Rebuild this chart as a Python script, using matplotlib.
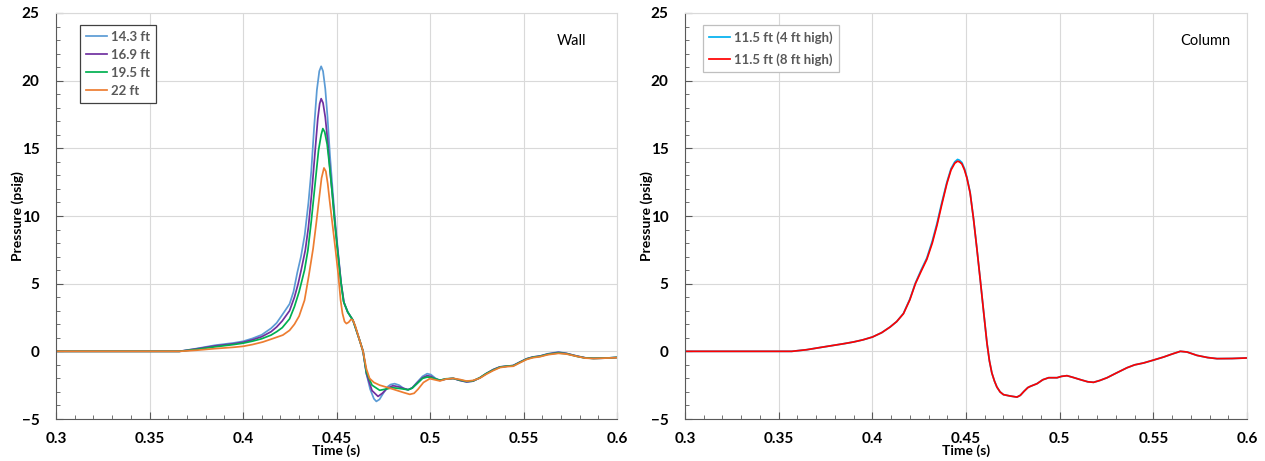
import matplotlib.pyplot as plt
from matplotlib.ticker import MultipleLocator

plt.rcParams['font.family'] = ['Lato', 'DejaVu Sans']

# ---- Wall (left panel) ----
# tail shared by the wall curves after ~0.505 s
t_tail = [0.5085, 0.5124, 0.5160, 0.5196, 0.5230, 0.5267, 0.5300, 0.5338, 0.5374, 0.5410, 0.5445,
          0.5480, 0.5517, 0.5550, 0.5588, 0.5630, 0.5687, 0.5730, 0.5785, 0.5830, 0.5874, 0.5940, 0.600]

t_143 = [0.300, 0.366, 0.375, 0.385, 0.395, 0.400, 0.405, 0.410, 0.415, 0.418, 0.421, 0.4249,
         0.4270, 0.4290, 0.4310, 0.4330, 0.4350, 0.4365, 0.4380, 0.4395, 0.4408, 0.4418, 0.4428,
         0.4440, 0.4452, 0.4465, 0.4480, 0.4495, 0.4510, 0.4525, 0.4540, 0.4560, 0.4588, 0.4605,
         0.4624, 0.4642, 0.4660, 0.4680, 0.4700, 0.4713, 0.4730, 0.4750, 0.4775, 0.4790, 0.4811,
         0.4835, 0.4860, 0.4883, 0.4905, 0.4930, 0.4960, 0.4985, 0.5005, 0.5030, 0.5053] + t_tail
p_143 = [0, 0, 0.2, 0.45, 0.62, 0.74, 0.95, 1.22, 1.7, 2.1, 2.7, 3.5,
         4.4, 5.8, 7.0, 8.6, 11.0, 13.3, 16.5, 19.3, 20.7, 21.06, 20.7,
         19.4, 17.3, 14.5, 11.8, 9.3, 7.1, 5.0, 3.6, 2.9, 2.3, 1.6,
         0.8, 0, -1.65, -2.8, -3.5, -3.70, -3.55, -3.1, -2.6, -2.45, -2.39,
         -2.5, -2.75, -2.84, -2.7, -2.3, -1.85, -1.65, -1.72, -2.0, -2.14,
         -2.05, -2.0, -2.15, -2.27, -2.2, -1.95, -1.65, -1.35, -1.15, -1.1, -1.05,
         -0.8, -0.55, -0.42, -0.35, -0.18, -0.05, -0.15, -0.35, -0.48, -0.52, -0.5, -0.45]

t_169 = [0.300, 0.366, 0.375, 0.385, 0.395, 0.400, 0.405, 0.410, 0.415, 0.418, 0.421, 0.4249,
         0.4275, 0.4295, 0.4311, 0.4333, 0.4350, 0.4368, 0.4386, 0.4400, 0.4410, 0.4418, 0.4428,
         0.4440, 0.4453, 0.4466, 0.4480, 0.4495, 0.4510, 0.4525, 0.4540, 0.4560, 0.4588, 0.4605,
         0.4624, 0.4642, 0.4660, 0.4690, 0.4722, 0.4745, 0.4770, 0.4800, 0.4811, 0.4840, 0.4883,
         0.4905, 0.4930, 0.4960, 0.4985, 0.5005, 0.5030, 0.5053] + t_tail
p_169 = [0, 0, 0.18, 0.4, 0.56, 0.67, 0.85, 1.08, 1.45, 1.8, 2.25, 3.0,
         4.0, 5.0, 6.0, 7.46, 9.2, 11.8, 14.86, 17.2, 18.3, 18.67, 18.35,
         17.3, 15.5, 13.3, 11.3, 9.0, 7.0, 5.0, 3.6, 2.9, 2.3, 1.6,
         0.8, 0, -1.65, -2.9, -3.33, -3.1, -2.75, -2.55, -2.56, -2.65, -2.84,
         -2.7, -2.35, -1.95, -1.8, -1.85, -2.05, -2.14,
         -2.05, -2.0, -2.15, -2.25, -2.2, -1.95, -1.65, -1.35, -1.15, -1.1, -1.05,
         -0.8, -0.55, -0.42, -0.35, -0.2, -0.08, -0.16, -0.35, -0.48, -0.52, -0.5, -0.45]

t_195 = [0.300, 0.366, 0.375, 0.385, 0.395, 0.400, 0.405, 0.410, 0.415, 0.418, 0.421, 0.4249,
         0.4275, 0.4300, 0.4329, 0.4347, 0.4365, 0.4385, 0.4404, 0.4418, 0.4427, 0.4437, 0.4450,
         0.4462, 0.4475, 0.4490, 0.4505, 0.4520, 0.4537, 0.4560, 0.4588, 0.4605, 0.4624, 0.4642,
         0.4660, 0.4690, 0.4731, 0.4760, 0.4800, 0.4840, 0.4883, 0.4905, 0.4930, 0.4960, 0.4985,
         0.5010, 0.5053] + t_tail
p_195 = [0, 0, 0.14, 0.33, 0.5, 0.6, 0.75, 0.93, 1.2, 1.45, 1.75, 2.4,
         3.3, 4.4, 6.0, 7.46, 9.6, 12.3, 14.86, 16.0, 16.46, 16.2, 15.3,
         13.8, 12.0, 9.6, 7.5, 5.5, 3.7, 2.9, 2.3, 1.6, 0.8, 0,
         -1.55, -2.5, -2.88, -2.8, -2.69, -2.75, -2.84, -2.72, -2.4, -2.0, -1.9,
         -1.95, -2.14,
         -2.03, -2.0, -2.12, -2.22, -2.18, -1.95, -1.65, -1.38, -1.17, -1.1, -1.07,
         -0.82, -0.57, -0.44, -0.37, -0.22, -0.12, -0.18, -0.37, -0.49, -0.52, -0.5, -0.45]

t_22 = [0.300, 0.366, 0.375, 0.385, 0.395, 0.400, 0.405, 0.4106, 0.4159, 0.4213, 0.4249, 0.4275,
        0.4300, 0.4329, 0.4352, 0.4375, 0.4392, 0.4406, 0.4420, 0.4433, 0.4443, 0.4453, 0.4463,
        0.4480, 0.4495, 0.4510, 0.4522, 0.4532, 0.4543, 0.4553, 0.4565, 0.4577, 0.4587, 0.4600,
        0.4624, 0.4642, 0.4660, 0.4677, 0.4700, 0.4731, 0.4780, 0.4821, 0.4860, 0.4892, 0.4915,
        0.4936, 0.4965, 0.4999, 0.5025, 0.5053] + t_tail
p_22 = [0, 0, 0.08, 0.2, 0.3, 0.37, 0.5, 0.69, 0.94, 1.2, 1.55, 2.0,
        2.6, 3.77, 5.6, 7.6, 9.5, 11.16, 12.8, 13.55, 13.3, 12.4, 11.16,
        9.2, 7.46, 5.6, 3.77, 2.8, 2.2, 2.05, 2.15, 2.35, 2.32, 1.9,
        0.8, 0, -1.3, -2.0, -2.3, -2.5, -2.7, -2.88, -3.05, -3.18, -3.1,
        -2.8, -2.3, -2.02, -2.1, -2.19,
        -2.05, -2.0, -2.08, -2.2, -2.15, -1.98, -1.7, -1.42, -1.2, -1.13, -1.1,
        -0.85, -0.6, -0.47, -0.4, -0.25, -0.15, -0.2, -0.37, -0.5, -0.53, -0.5, -0.47]

# ---- Column (right panel) ----
t_col = [0.300, 0.357, 0.365, 0.372, 0.3792, 0.385, 0.3899, 0.395, 0.4001, 0.405, 0.4095, 0.413,
         0.4166, 0.420, 0.4230, 0.4260, 0.4291, 0.4320, 0.4345, 0.4370, 0.4398, 0.4420, 0.4440,
         0.4455, 0.4465, 0.4478, 0.4492, 0.4505, 0.4522, 0.4540, 0.4558, 0.4576, 0.4595, 0.4612,
         0.4625, 0.4638, 0.4652, 0.4665, 0.4682, 0.4700, 0.4735, 0.4772, 0.4790, 0.4810, 0.4830,
         0.4843, 0.4879, 0.4910, 0.4941, 0.4986, 0.5010, 0.5039, 0.5070, 0.5110, 0.5150, 0.5181,
         0.5215, 0.5253, 0.5300, 0.5360, 0.5400, 0.5448, 0.5500, 0.5555, 0.5600, 0.5644, 0.5680,
         0.5733, 0.5790, 0.5840, 0.5920, 0.600]
p_col8 = [0, 0, 0.12, 0.28, 0.44, 0.57, 0.69, 0.85, 1.06, 1.38, 1.8, 2.2,
          2.78, 3.8, 5.0, 5.9, 6.8, 8.0, 9.3, 10.8, 12.4, 13.4, 13.9,
          14.05, 14.0, 13.85, 13.4, 12.8, 11.7, 9.8, 7.6, 5.3, 2.8, 0.6,
          -0.7, -1.6, -2.2, -2.64, -3.0, -3.2, -3.3, -3.38, -3.25, -2.95, -2.68,
          -2.59, -2.39, -2.1, -1.95, -1.95, -1.85, -1.80, -1.92, -2.09, -2.25, -2.29,
          -2.15, -1.95, -1.62, -1.21, -1.0, -0.86, -0.65, -0.42, -0.2, 0, -0.05,
          -0.3, -0.46, -0.54, -0.53, -0.49]
p_col4 = [0, 0, 0.12, 0.28, 0.44, 0.57, 0.69, 0.85, 1.06, 1.38, 1.8, 2.2,
          2.8, 3.85, 5.05, 6.0, 6.9, 8.15, 9.45, 10.95, 12.5, 13.5, 14.0,
          14.18, 14.12, 13.95, 13.5, 12.85, 11.75, 9.8, 7.6, 5.3, 2.8, 0.6,
          -0.7, -1.6, -2.2, -2.64, -3.0, -3.2, -3.3, -3.38, -3.25, -2.95, -2.68,
          -2.59, -2.39, -2.1, -1.95, -1.95, -1.85, -1.80, -1.92, -2.09, -2.25, -2.29,
          -2.15, -1.95, -1.62, -1.21, -1.0, -0.86, -0.65, -0.42, -0.2, 0, -0.05,
          -0.3, -0.46, -0.54, -0.53, -0.49]

wall_series = [(t_143, p_143, "14.3 ft", "#5B9BD5"),
               (t_169, p_169, "16.9 ft", "#7030A0"),
               (t_195, p_195, "19.5 ft", "#00B050"),
               (t_22, p_22, "22 ft", "#ED7D31")]
col_series = [(t_col, p_col4, "11.5 ft (4 ft high)", "#00B0F0"),
              (t_col, p_col8, "11.5 ft (8 ft high)", "#FF0000")]

fig = plt.figure(figsize=(12.65, 4.61), dpi=100)
ax1 = fig.add_axes([56 / 1265, 42 / 461, 561 / 1265, 406 / 461])
ax2 = fig.add_axes([685 / 1265, 42 / 461, 562 / 1265, 406 / 461])


def style(ax, series, label, label_x, leg_xy, leg_edge, leg_space):
    for t, p, name, c in series:
        ax.plot(t, p, color=c, lw=1.25, label=name, solid_joinstyle="round")
    ax.set_xlim(0.3, 0.6)
    ax.set_ylim(-5, 25)
    ax.xaxis.set_minor_locator(MultipleLocator(0.01))
    ax.yaxis.set_major_locator(MultipleLocator(5))
    ax.yaxis.set_minor_locator(MultipleLocator(1))
    ax.set_xticks([0.3, 0.35, 0.4, 0.45, 0.5, 0.55, 0.6])
    ax.set_xticklabels(["0.3", "0.35", "0.4", "0.45", "0.5", "0.55", "0.6"])
    ax.grid(True, which="major", color="#D9D9D9", lw=0.8)
    ax.set_axisbelow(True)
    ax.tick_params(which="both", direction="in", color="#595959")
    ax.tick_params(which="major", length=5, width=0.8, labelsize=11)
    ax.tick_params(which="minor", length=3, width=0.6)
    ax.tick_params(axis="y", pad=12)
    ax.tick_params(axis="x", pad=9)
    for lab in ax.get_xticklabels() + ax.get_yticklabels():
        lab.set_fontweight("bold")
    for s in ["top", "right"]:
        ax.spines[s].set_color("#D9D9D9")
    for s in ["left", "bottom"]:
        ax.spines[s].set_color("#595959")
    ax.set_xlabel("Time (s)", fontsize=10, fontweight="bold")
    ax.set_ylabel("Pressure (psig)", fontsize=10, fontweight="bold")
    ax.xaxis.set_label_coords(0.5, -0.062)
    ax.yaxis.set_label_coords(-0.057, 0.5)
    ax.text(label_x, 0.93, label, transform=ax.transAxes, ha="right", va="center", fontsize=10.5)
    leg = ax.legend(loc="upper left", bbox_to_anchor=leg_xy, borderaxespad=0, fancybox=False,
                    framealpha=1, edgecolor=leg_edge, prop={"size": 9.5, "weight": "bold"},
                    handlelength=1.6, handletextpad=0.3, labelspacing=leg_space, borderpad=0.45)
    leg.get_frame().set_linewidth(0.9)
    for txt in leg.get_texts():
        txt.set_color("#595959")


style(ax1, wall_series, "Wall", 0.945, (0.043, 0.97), "#404040", 0.45)
style(ax2, col_series, "Column", 0.971, (0.032, 0.97), "#BFBFBF", 0.7)

fig.savefig("out.png", dpi=100)
